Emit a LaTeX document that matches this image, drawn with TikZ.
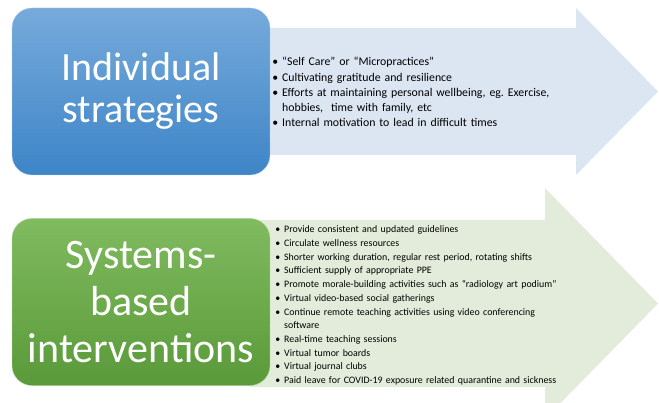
\documentclass[tikz,border=0pt]{standalone}
\usepackage{fontspec}
\setmainfont{Carlito}
\usepackage{enumitem}
\setlist[itemize]{label=\textbullet, leftmargin=10pt, labelsep=4pt, itemsep=0pt, topsep=0pt, parsep=0pt, partopsep=0pt}
\definecolor{bluetop}{HTML}{76AADB}
\definecolor{bluebot}{HTML}{3E85C7}
\definecolor{bluearrow}{HTML}{DCE6F2}
\definecolor{greentop}{HTML}{80BB5F}
\definecolor{greenbot}{HTML}{5A9A3A}
\definecolor{greenarrow}{HTML}{E3ECDA}

\begin{document}
\begin{tikzpicture}[x=1pt,y=1pt,
  catbox/.style={rounded corners=20pt, minimum width=258pt, minimum height=167pt, inner sep=0pt, text=white, align=center},
  listbox/.style={anchor=north west, inner sep=0pt, align=left}]
\path[clip] (0,0) rectangle (659,402);
% Individual strategies: arrow, box and list
\fill[bluearrow] (250,247) -- (576,247) -- (576,227) -- (658,310.5) -- (576,394) -- (576,374) -- (250,374) -- cycle;
\node[catbox, top color=bluetop, bottom color=bluebot, draw=bluetop!60!white, font=\fontsize{40}{42}\selectfont] (indiv) at (141,310.5) {Individual\\strategies};
\node[listbox, text width=300pt, font=\fontsize{11.8}{15.2}\selectfont] (indivlist) at (272,351.5) {%
\begin{itemize}
\item “Self Care” or “Micropractices”
\item Cultivating gratitude and resilience
\item Efforts at maintaining personal wellbeing, eg.\ Exercise, hobbies, \ time with family, etc
\item Internal motivation to lead in difficult times
\end{itemize}};
% Systems-based interventions: arrow, box and list
\fill[greenarrow] (250,15) -- (545,15) -- (545,-17) -- (658,98.5) -- (545,214) -- (545,182) -- (250,182) -- cycle;
\node[catbox, top color=greentop, bottom color=greenbot, draw=greentop!60!white, font=\fontsize{42}{47}\selectfont] (systems) at (141,100) {Systems-\\based\\interventions};
\node[listbox, text width=285pt, font=\fontsize{9.9}{13.7}\selectfont] (systemslist) at (274,183) {%
\begin{itemize}
\item Provide consistent and updated guidelines
\item Circulate wellness resources
\item Shorter working duration, regular rest period, rotating shifts
\item Sufficient supply of appropriate PPE
\item Promote morale-building activities such as “radiology art podium”
\item Virtual video-based social gatherings
\item Continue remote teaching activities using video conferencing software
\item Real-time teaching sessions
\item Virtual tumor boards
\item Virtual journal clubs
\item Paid leave for COVID-19 exposure related quarantine and sickness
\end{itemize}};
\end{tikzpicture}
\end{document}
